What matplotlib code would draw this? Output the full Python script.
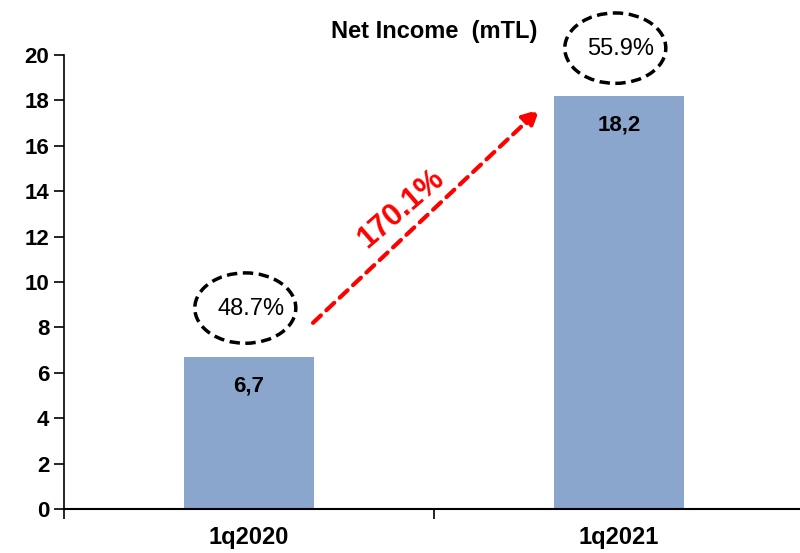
import matplotlib.pyplot as plt
from matplotlib.patches import Ellipse
import numpy as np

plt.rcParams['font.family'] = ['Liberation Sans', 'DejaVu Sans']

# Net income per quarter (mTL)
quarters = ['1q2020', '1q2021']
net_income = [6.7, 18.2]
value_labels = ['6,7', '18,2']
margins = ['48.7%', '55.9%']
margin_pos = [8.85, 20.3]
growth_label = '170.1%'

bar_color = '#8AA6CC'

fig = plt.figure(figsize=(8, 5.53), dpi=100)
ax = fig.add_axes([0.08, 0.0796, 0.925, 0.821])

x = np.arange(len(quarters))
ax.bar(x, net_income, width=0.35, color=bar_color, zorder=2)

for xi, v, lbl in zip(x, net_income, value_labels):
    ax.text(xi, v - 1.3, lbl, ha='center', va='center',
            fontsize=16, fontweight='bold', color='black')

# dashed ellipses with the margin figures
for xi, yc, m in zip(x, margin_pos, margins):
    e = Ellipse((xi - 0.01, yc), width=0.273, height=3.1, fill=False,
                edgecolor='black', linewidth=2.5, linestyle=(0, (3, 1.6)),
                clip_on=False, zorder=3)
    ax.add_patch(e)
    ax.text(xi + 0.005, yc - 0.05, m, ha='center', va='center',
            fontsize=17, color='black', clip_on=False)

# growth arrow between the two quarters
ax.annotate('', xy=(0.785, 17.6), xytext=(0.173, 8.2),
            arrowprops=dict(arrowstyle='-|>,head_length=1.0,head_width=0.5',
                            color='red', lw=3, linestyle=(0, (2.6, 1.8)),
                            shrinkA=0, shrinkB=0))
ax.text(0.41, 13.2, growth_label, rotation=41, ha='center', va='center',
        fontsize=22, fontweight='bold', color='red', rotation_mode='anchor')

ax.set_xlim(-0.5, 1.5)
ax.set_ylim(0, 20)
ax.set_yticks(range(0, 21, 2))
ax.tick_params(axis='y', direction='out', length=7, width=1.2, labelsize=16)
for t in ax.get_yticklabels():
    t.set_fontweight('bold')

ax.set_xticks([-0.5, 0.5, 1.5])
ax.set_xticklabels([])
ax.set_xticks(x, minor=True)
ax.set_xticklabels(quarters, minor=True, fontsize=17, fontweight='bold')
ax.tick_params(axis='x', which='major', direction='out', length=7, width=1.2)
ax.tick_params(axis='x', which='minor', length=0, pad=12)

for s in ['top', 'right']:
    ax.spines[s].set_visible(False)
ax.spines['left'].set_linewidth(1.2)
ax.spines['bottom'].set_linewidth(1.5)

ax.set_title('Net Income  (mTL)', fontsize=17, fontweight='bold', pad=12)

fig.savefig('out.png', dpi=100)
